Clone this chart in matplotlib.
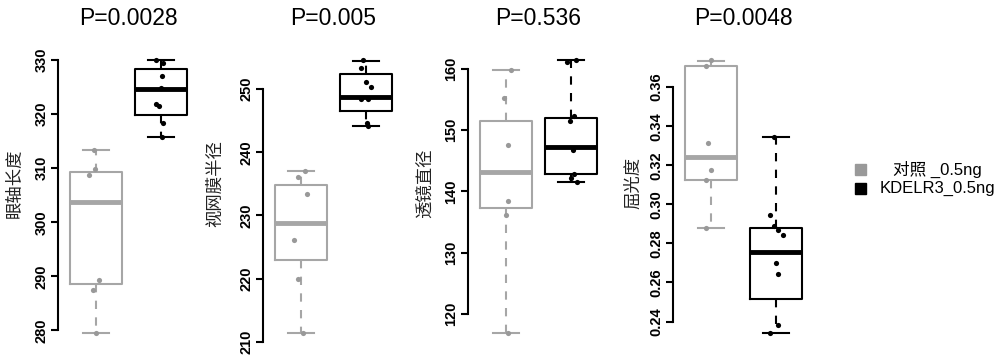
import matplotlib
matplotlib.use("Agg")
import matplotlib.pyplot as plt
from matplotlib.patches import Rectangle
import numpy as np

plt.rcParams['font.family'] = ['Liberation Sans', 'Noto Sans CJK SC', 'DejaVu Sans']

# panel text
p_values = ["P=0.0028", "P=0.005", "P=0.536", "P=0.0048"]
y_labels = ["眼轴长度", "视网膜半径", "透镜直径", "屈光度"]
group_names = ["对照 _0.5ng", "KDELR3_0.5ng"]

# box stats per panel: [whislo, q1, med, q3, whishi]
ctrl_box = [
    [279.5, 288.5, 303.8, 309.2, 313.4],
    [211.4, 223.0, 228.8, 234.8, 237.0],
    [116.9, 137.3, 143.1, 151.4, 159.7],
    [0.2880, 0.3127, 0.3242, 0.3710, 0.3735],
]
kd_box = [
    [315.8, 319.8, 324.6, 328.3, 330.0],
    [244.1, 246.6, 248.8, 252.3, 254.4],
    [141.5, 142.8, 147.2, 152.0, 161.4],
    [0.2341, 0.2516, 0.2754, 0.2877, 0.3344],
]

# individual points
ctrl_pts = [
    [313.3, 309.9, 308.7, 289.4, 287.4, 279.5],
    [237.0, 236.1, 233.4, 226.1, 220.0, 211.4],
    [159.7, 155.2, 147.6, 138.5, 136.1, 116.9],
    [0.3739, 0.3710, 0.3313, 0.3174, 0.3123, 0.2880],
]
kd_pts = [
    [330.0, 329.4, 327.1, 324.9, 321.8, 321.4, 318.4, 315.8],
    [254.6, 253.4, 251.1, 250.4, 248.4, 248.4, 244.7, 244.1],
    [161.4, 161.0, 152.2, 151.4, 146.8, 142.9, 142.2, 141.5],
    [0.3344, 0.2944, 0.2890, 0.2868, 0.2842, 0.2698, 0.2643, 0.2380, 0.2341],
]

# horizontal jitter of the points (in group units)
ctrl_jit = [
    [-0.03, -0.015, -0.11, 0.046, -0.04, 0.005],
    [0.07, -0.04, 0.09, -0.11, -0.04, 0.036],
    [0.08, -0.036, 0.026, 0.026, 0.0, 0.026],
    [0.0, -0.08, -0.04, 0.0, -0.067, -0.067],
]
kd_jit = [
    [-0.08, 0.036, 0.02, 0.0, -0.078, -0.04, 0.026, 0.01],
    [-0.05, -0.08, 0.0, 0.08, -0.08, 0.026, 0.01, 0.036],
    [0.067, -0.067, 0.04, -0.01, 0.026, 0.05, 0.0, 0.09],
    [-0.026, -0.088, -0.036, 0.026, 0.1, 0.0, 0.036, 0.026, -0.088],
]

y_ticks = [
    np.arange(280, 331, 10),
    np.arange(210, 251, 10),
    np.arange(120, 161, 10),
    np.arange(0.24, 0.361, 0.02),
]
tick_fmt = ["{:.0f}", "{:.0f}", "{:.0f}", "{:.2f}"]
label_x = [-0.305, -0.34, -0.305, -0.28]

GRAY = "#a6a6a6"
GRAY_PT = "#999999"
BLACK = "#000000"


def box_stats(v):
    return dict(whislo=v[0], q1=v[1], med=v[2], q3=v[3], whishi=v[4], fliers=[])


def draw_group(ax, pos, stats, pts, jit, color, ptcol):
    ax.bxp([box_stats(stats)], positions=[pos], widths=0.8, showfliers=False,
           boxprops=dict(color=color, linewidth=1.5),
           whiskerprops=dict(color=color, linewidth=1.5, linestyle=(0, (4, 4))),
           capprops=dict(color=color, linewidth=1.5),
           medianprops=dict(color=color, linewidth=3.5, solid_capstyle="butt"),
           capwidths=0.4)
    ax.scatter(pos + np.array(jit), pts, s=14, color=ptcol, zorder=5, linewidths=0)


fig = plt.figure(figsize=(10, 3.6), dpi=100)

for i in range(4):
    ax = fig.add_axes([0.058 + 0.205 * i, 0.0444, 0.141, 0.8194])
    draw_group(ax, 1, ctrl_box[i], ctrl_pts[i], ctrl_jit[i], GRAY, GRAY_PT)
    draw_group(ax, 2, kd_box[i], kd_pts[i], kd_jit[i], BLACK, BLACK)

    lo = min(min(ctrl_pts[i]), min(kd_pts[i]), ctrl_box[i][0], kd_box[i][0])
    hi = max(max(ctrl_pts[i]), max(kd_pts[i]), ctrl_box[i][4], kd_box[i][4])
    pad = (hi - lo) * 0.04
    ax.set_ylim(lo - pad, hi + pad)
    ax.set_xlim(0.42, 2.58)

    for s in ["top", "right", "bottom"]:
        ax.spines[s].set_visible(False)
    ax.spines["left"].set_linewidth(1.5)
    ax.spines["left"].set_bounds(y_ticks[i][0], y_ticks[i][-1])
    ax.set_xticks([])
    ax.set_yticks(y_ticks[i])
    ax.set_yticklabels([tick_fmt[i].format(t) for t in y_ticks[i]],
                       rotation=90, va="center", fontsize=10.5, fontweight="bold")
    ax.tick_params(axis="y", length=5, width=1.5, pad=2)

    ax.set_ylabel(y_labels[i], fontsize=12.5, color="#222222",
                  family=["Noto Sans CJK SC", "DejaVu Sans"])
    ax.yaxis.label.set_va("center")
    ax.yaxis.set_label_coords(label_x[i], 0.545)
    ax.set_title(p_values[i], fontsize=16.5, pad=17)

# legend
fig.add_artist(Rectangle((0.855, 0.515), 0.011, 0.03, transform=fig.transFigure,
                         color=GRAY_PT))
fig.add_artist(Rectangle((0.855, 0.462), 0.011, 0.03, transform=fig.transFigure,
                         color=BLACK))
fig.text(0.937, 0.530, group_names[0], ha="center", va="center", fontsize=12,
         family=["Liberation Sans", "Noto Sans CJK SC", "DejaVu Sans"])
fig.text(0.937, 0.477, group_names[1], ha="center", va="center", fontsize=12)

fig.savefig("out.png", dpi=100)
